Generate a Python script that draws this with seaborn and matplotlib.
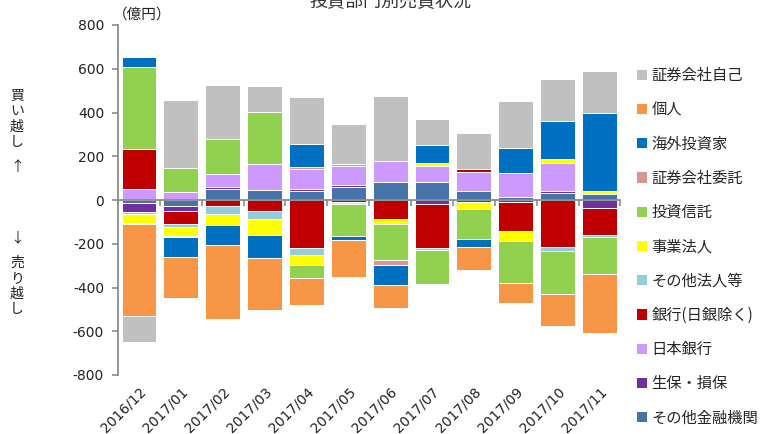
import numpy as np
import matplotlib
matplotlib.use("Agg")
import matplotlib.pyplot as plt
from matplotlib.patches import Patch
import seaborn as sns

# ---- data (億円, net buy + / net sell -) ----
months = ["2016/12", "2017/01", "2017/02", "2017/03", "2017/04", "2017/05",
          "2017/06", "2017/07", "2017/08", "2017/09", "2017/10", "2017/11"]

other_financial = [-15, -27, 49, 47, 41, 61, 82, 82, 40, 15, 34, 27]
insurance = [-38, -23, 12, 0, 8, 6, 0, -17, -11, -11, 6, -37]
boj = [49, 35, 59, 119, 95, 87, 96, 72, 88, 107, 131, 0]
banks = [186, -61, -29, -49, -218, -9, -88, -203, 14, -130, -214, -125]
other_corp = [-11, -12, -34, -40, -34, 0, 0, -8, 0, 0, -20, -6]
business_corp = [-40, -40, -53, -73, -47, -11, -20, 17, -32, -47, 15, 14]
investment_trusts = [372, 113, 157, 237, -58, -143, -166, -157, -133, -191, -197, -172]
broker_consign = [-5, -6, 0, 0, 6, 11, -24, 0, 0, 0, 0, 0]
foreigners = [46, -92, -90, -104, 108, -18, -92, 81, -38, 114, 175, 356]
individuals = [-420, -189, -336, -239, -125, -172, -105, 0, -104, -90, -143, -267]
broker_own = [-119, 307, 250, 119, 211, 184, 297, 120, 163, 218, 192, 195]

series_names = ["その他金融機関", "生保・損保", "日本銀行", "銀行(日銀除く)", "その他法人等",
                "事業法人", "投資信託", "証券会社委託", "海外投資家", "個人", "証券会社自己"]
series_values = [other_financial, insurance, boj, banks, other_corp, business_corp,
                 investment_trusts, broker_consign, foreigners, individuals, broker_own]
series_colors = ["#4674A8", "#7030A0", "#CC99FF", "#C00000", "#92CDDC", "#FFFF00",
                 "#92D050", "#D99594", "#0070C0", "#F79646", "#C0C0C0"]

y_ticks = [-800, -600, -400, -200, 0, 200, 400, 600, 800]

# ---- style ----
sns.set_style("white")
plt.rcParams["font.family"] = ["DejaVu Sans", "Noto Sans CJK JP"]
cjk = ["Noto Sans CJK JP", "DejaVu Sans"]
axis_gray = "#8C8C8C"
text_color = "#222222"

W, H = 779, 434
fig = plt.figure(figsize=(W / 100, H / 100), dpi=100)
ax = fig.add_axes([118 / W, 1 - 375 / H, (620.4 - 118) / W, 350 / H])

# ---- stacked bars: positives stack upward, negatives stack downward ----
pos_bottom = np.zeros(len(months))
neg_bottom = np.zeros(len(months))
for name, vals, col in zip(series_names, series_values, series_colors):
    v = np.asarray(vals, dtype=float)
    bottom = np.where(v >= 0, pos_bottom, neg_bottom)
    sns.barplot(x=months, y=v, bottom=bottom, color=col, ax=ax, width=0.83,
                edgecolor="white", linewidth=0.7, saturation=1, errorbar=None,
                zorder=2)
    pos_bottom += np.clip(v, 0, None)
    neg_bottom += np.clip(v, None, 0)

ax.set_xlim(-0.5, len(months) - 0.5)
ax.set_ylim(-800, 800)
ax.set_yticks(y_ticks)
ax.set_yticklabels([str(t) for t in y_ticks], fontsize=10)
ax.set_xlabel("")
ax.set_ylabel("")

for s in ["top", "right", "bottom"]:
    ax.spines[s].set_visible(False)
ax.spines["left"].set_color(axis_gray)
ax.spines["left"].set_linewidth(1.3)
ax.tick_params(axis="y", direction="out", length=4, width=1.2, color=axis_gray,
               pad=6, labelcolor=text_color, left=True)

# month labels along the bottom
ax.tick_params(axis="x", length=0, pad=7, labelsize=10, labelcolor=text_color)
for lab in ax.get_xticklabels():
    lab.set_rotation(45)
    lab.set_ha("right")
    lab.set_rotation_mode("anchor")

# zero line with category-boundary ticks
zero_axis = ax.secondary_xaxis(0, transform=ax.transData)
zero_axis.set_xticks(np.arange(len(months) + 1) - 0.5)
zero_axis.tick_params(axis="x", direction="out", length=4, width=1.2,
                      color=axis_gray, labelbottom=False, labeltop=False)
for s in ["top", "bottom"]:
    zero_axis.spines[s].set_color(axis_gray)
    zero_axis.spines[s].set_linewidth(1.3)
zero_axis.set_zorder(5)

# ---- texts ----
fig.text(390 / W, 1 - 2.5 / H, "投資部門別売買状況", ha="center", va="center",
         fontsize=13, color="#333333", family=cjk)
fig.text(113 / W, 1 - 15 / H, "（億円）", ha="left", va="center",
         fontsize=10.5, color=text_color, family=cjk)
fig.text(17 / W, 1 - 89 / H, "買\nい\n越\nし", ha="center", va="top",
         fontsize=10, linespacing=1.12, color=text_color, family=cjk)
fig.text(17 / W, 1 - 167 / H, "↑", ha="center", va="center",
         fontsize=10, color=text_color, family=cjk)
fig.text(17 / W, 1 - 238 / H, "↓", ha="center", va="center",
         fontsize=10, color=text_color, family=cjk)
fig.text(17 / W, 1 - 256 / H, "売\nり\n越\nし", ha="center", va="top",
         fontsize=10, linespacing=1.12, color=text_color, family=cjk)

# ---- legend (top entry = last stacked series) ----
handles = [Patch(facecolor=c, edgecolor="none") for c in series_colors][::-1]
labels = series_names[::-1]
fig.legend(handles, labels, loc="upper left", bbox_to_anchor=(637 / W, 1 - 67 / H),
           frameon=False, handlelength=0.65, handleheight=0.65,
           handletextpad=0.3, labelspacing=1.13, borderpad=0, borderaxespad=0,
           prop={"family": cjk, "size": 11})

fig.savefig("out.png", dpi=100)
